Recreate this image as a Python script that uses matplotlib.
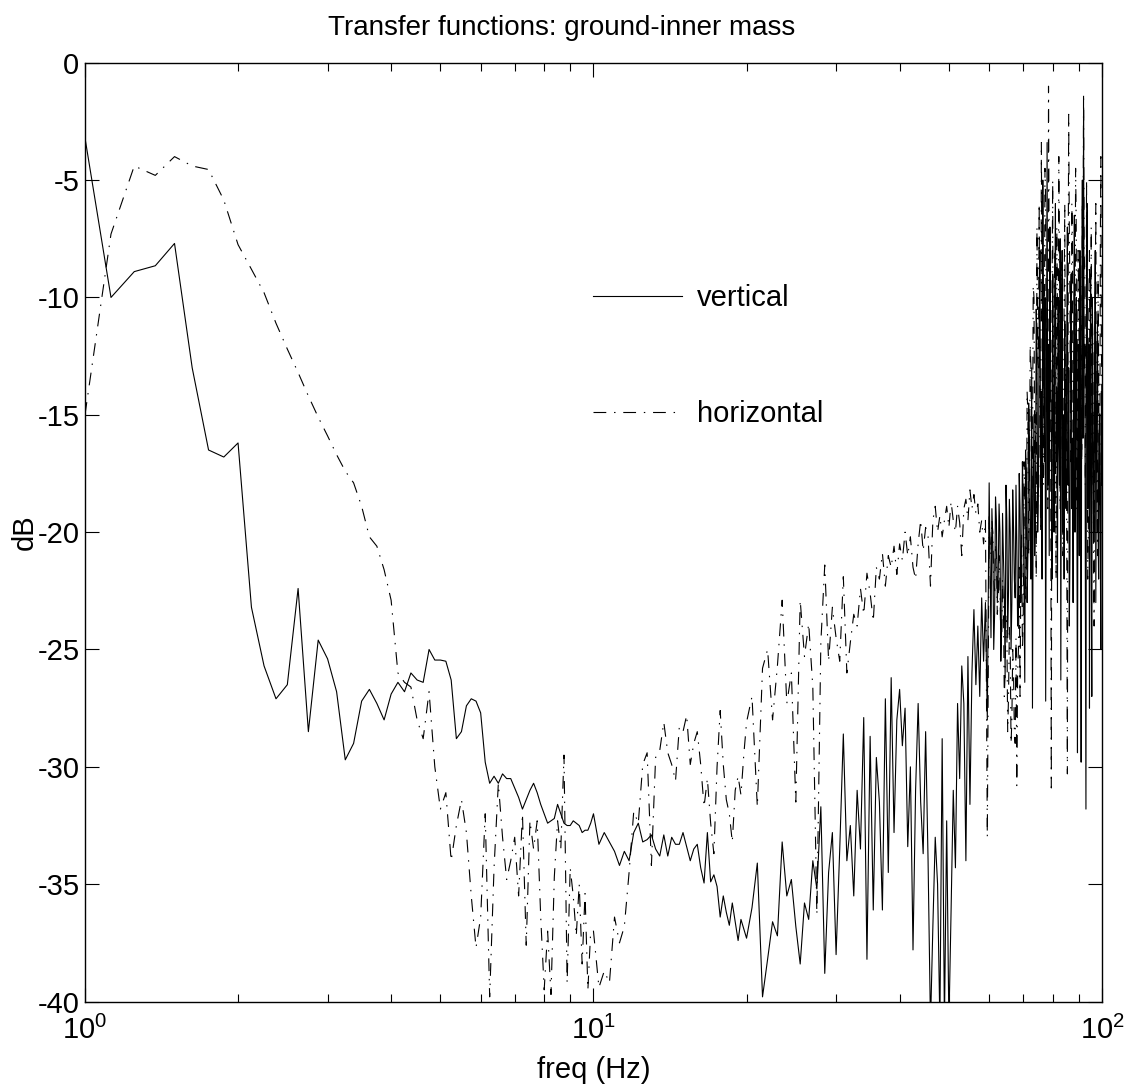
import numpy as np
import matplotlib
matplotlib.use('Agg')
import matplotlib.pyplot as plt

# transfer function magnitudes (dB)
# segment a: 1.0 .. 10.0 Hz, step 0.125 (one row per Hz)
vert_a = [-3.2, -10.0, -8.9, -8.65, -7.7, -13.0, -16.5, -16.8,
          -16.2, -23.2, -25.7, -27.1, -26.5, -22.4, -28.5, -24.6,
          -25.4, -26.8, -29.7, -29.0, -27.2, -26.7, -27.3, -28.0,
          -26.9, -26.4, -26.8, -26.0, -26.3, -26.4, -25.0, -25.45,
          -25.45, -25.5, -26.3, -28.8, -28.5, -27.4, -27.1, -27.2,
          -27.7, -29.8, -30.7, -30.4, -30.7, -30.3, -30.5, -30.5,
          -30.9, -31.3, -31.8, -31.4, -31.0, -30.7, -31.1, -31.6,
          -32.0, -32.4, -32.3, -32.2, -31.6, -32.0, -32.4, -32.5,
          -32.5, -32.3, -32.4, -32.5, -32.8, -32.7, -32.7, -32.4,
          -32.0]
horz_a = [-15.0, -7.3, -4.4, -4.8, -4.0, -4.4, -4.55, -5.85,
          -7.75, -8.8, -9.8, -11.1, -12.2, -13.2, -14.2, -15.1,
          -15.9, -16.7, -17.4, -17.9, -18.9, -20.2, -20.6, -21.6,
          -22.9, -26.0, -26.4, -26.6, -28.0, -28.8, -26.8, -30.0,
          -31.8, -31.1, -34.0, -32.5, -31.4, -32.8, -35.5, -37.7,
          -36.4, -32.0, -39.8, -34.3, -30.7, -33.0, -34.8, -34.0,
          -33.0, -35.5, -32.0, -37.6, -32.3, -33.5, -32.3, -36.4,
          -39.5, -37.0, -39.7, -34.7, -32.3, -33.5, -29.5, -39.2,
          -34.3, -35.5, -37.2, -35.0, -38.4, -35.4, -39.5, -37.0,
          -37.0]

# segment b: 10.25 .. 20.0 Hz, step 0.25
vert_b = [-33.3, -32.8, -33.2, -33.6,
          -34.2, -33.6, -34.0, -32.8,
          -32.4, -33.2, -33.1, -32.9,
          -33.5, -33.8, -32.9, -33.8,
          -33.0, -33.3, -33.3, -32.8,
          -33.4, -34.0, -33.5, -33.3,
          -34.3, -34.95, -32.8, -34.9,
          -34.6, -35.1, -36.4, -35.5,
          -36.2, -36.75, -35.8, -36.6,
          -37.4, -36.5, -36.9, -37.3]
horz_b = [-39.4, -38.7, -39.2, -36.4,
          -37.5, -36.8, -34.5, -31.9,
          -32.4, -29.9, -29.4, -34.2,
          -29.6, -29.3, -28.1, -29.4,
          -29.9, -30.6, -28.3, -28.5,
          -27.8, -29.9, -29.0, -28.5,
          -29.9, -31.7, -30.5, -32.4,
          -33.7, -30.0, -27.6, -29.9,
          -31.4, -32.0, -33.2, -31.0,
          -30.4, -31.2, -29.5, -28.1]

# segment c: 20.5 .. 40.0 Hz, step 0.5
vert_c = [-36.0, -34.1, -39.8, -38.2,
          -36.6, -37.2, -33.2, -35.5,
          -34.8, -36.8, -38.4, -35.8,
          -36.5, -34.0, -35.2, -31.7,
          -38.8, -34.5, -32.8, -38.0,
          -33.5, -28.6, -34.0, -32.5,
          -35.5, -31.0, -33.5, -27.9,
          -38.2, -28.7, -36.1, -29.6,
          -31.5, -36.1, -27.1, -34.5,
          -26.2, -32.8, -28.0, -26.7]
horz_c = [-27.0, -31.7, -25.8, -25.0,
          -28.0, -25.7, -22.9, -27.3,
          -26.0, -31.5, -22.9, -25.3,
          -23.9, -26.6, -36.3, -24.7,
          -21.4, -25.5, -23.2, -24.5,
          -25.5, -21.9, -26.0, -24.7,
          -23.5, -24.0, -22.4, -23.5,
          -21.75, -22.6, -23.8, -21.5,
          -22.0, -20.9, -22.3, -21.0,
          -21.5, -20.6, -21.8, -20.5]

# segment d: 40.5 .. 60.0 Hz, step 0.5 (one row per 5 Hz)
vert_d = [-29.1, -27.5, -33.4, -30.0, -37.8, -31.0, -27.3, -31.5, -33.7, -28.5,
          -34.0, -41.0, -36.8, -33.0, -35.0, -41.0, -28.8, -41.0, -32.3, -41.0,
          -36.1, -31.0, -34.3, -27.3, -30.5, -25.7, -27.3, -34.0, -25.3, -31.6,
          -26.0, -23.3, -26.5, -24.0, -27.0, -22.8, -25.5, -23.0, -28.0, -17.9]
horz_d = [-21.2, -20.0, -21.0, -20.2, -21.5, -22.0, -20.5, -19.5, -20.8, -19.8,
          -20.2, -22.3, -19.5, -18.9, -20.0, -19.3, -20.2, -19.5, -18.9, -19.8,
          -18.7, -19.5, -20.0, -18.9, -19.6, -21.0, -19.0, -18.6, -19.5, -18.2,
          -19.0, -18.4, -19.2, -18.8, -20.0, -19.5, -20.5, -19.5, -33.0, -19.3]

# segment e: 60.25 .. 100 Hz, step 0.25 (one row per 2 Hz)
vert_e = [-21.5, -24.5, -19.0, -20.5, -25.0, -23.5, -18.5, -19.5,
          -23.0, -22.0, -18.8, -20.0, -25.5, -24.0, -19.2, -21.0,
          -22.5, -26.2, -18.0, -19.5, -24.5, -22.5, -18.6, -20.0,
          -25.0, -23.0, -18.2, -19.8, -22.0, -22.8, -18.0, -20.5,
          -24.0, -23.5, -17.5, -19.0, -23.0, -21.5, -17.0, -18.5,
          -22.5, -26.4, -16.5, -17.5, -23.0, -21.0, -14.5, -16.0,
          -20.5, -22.0, -13.0, -27.5, -18.0, -15.0, -21.0, -19.5,
          -10.5, -12.0, -20.0, -18.0, -11.0, -8.0, -19.0, -14.0,
          -22.0, -5.0, -13.0, -17.0, -10.0, -27.2, -15.0, -3.4,
          -18.0, -12.0, -21.0, -7.0, -13.0, -16.0, -22.0, -9.0,
          -15.0, -20.0, -11.0, -6.0, -17.0, -14.0, -23.0, -10.0,
          -16.0, -18.0, -7.5, -26.3, -13.0, -8.0, -20.0, -15.0,
          -22.0, -11.0, -17.0, -19.0, -12.0, -7.0, -18.0, -13.0,
          -24.0, -21.0, -10.0, -9.0, -19.0, -16.0, -23.0, -12.0,
          -6.5, -20.0, -14.0, -10.0, -18.0, -29.4, -12.0, -14.0,
          -21.0, -8.0, -17.0, -29.8, -11.0, -5.0, -16.0, -2.0,
          -13.0, -12.0, -22.0, -31.8, -9.0, -6.0, -19.0, -18.0,
          -12.0, -27.5, -15.0, -9.0, -21.0, -27.0, -10.0, -14.0,
          -19.0, -20.0, -13.0, -8.0, -23.0, -17.0, -12.0, -11.0,
          -20.0, -22.0, -16.0, -15.0, -21.0, -25.0, -14.0, -18.0]
horz_e = [-20.5, -21.0, -19.5, -20.0, -22.0, -22.5, -20.5, -21.0,
          -23.5, -23.0, -21.0, -22.0, -25.0, -24.5, -22.0, -23.0,
          -27.0, -26.0, -23.5, -24.0, -28.5, -27.0, -24.0, -25.0,
          -29.0, -28.0, -25.0, -26.0, -28.5, -29.0, -24.5, -30.8,
          -26.0, -25.0, -21.5, -27.0, -22.0, -20.0, -25.0, -24.0,
          -17.0, -18.0, -23.0, -22.0, -14.0, -15.0, -21.0, -19.0,
          -12.0, -13.0, -18.5, -17.0, -9.5, -10.0, -17.0, -15.0,
          -22.0, -7.0, -12.5, -13.0, -6.0, -16.0, -20.0, -3.4,
          -11.0, -9.0, -18.0, -14.0, -4.5, -6.0, -15.0, -11.0,
          -19.0, -1.0, -9.0, -8.0, -14.0, -30.9, -10.0, -5.0,
          -18.0, -12.0, -8.0, -17.0, -22.0, -7.0, -11.0, -14.0,
          -4.0, -9.0, -19.0, -16.0, -8.5, -11.0, -21.0, -19.0,
          -10.0, -6.0, -15.0, -13.0, -20.0, -30.3, -12.0, -2.2,
          -7.0, -10.0, -17.0, -15.0, -6.0, -8.0, -21.0, -18.0,
          -9.0, -12.0, -4.5, -7.0, -19.0, -16.0, -8.0, -10.0,
          -13.0, -20.0, -9.0, -13.0, -17.0, -6.0, -10.0, -1.3,
          -8.0, -9.0, -18.0, -15.0, -5.0, -11.0, -22.0, -20.0,
          -10.0, -8.0, -16.0, -14.0, -7.0, -18.0, -11.0, -12.0,
          -21.0, -24.0, -14.0, -10.0, -6.0, -16.0, -19.0, -21.0,
          -9.0, -13.0, -17.0, -19.0, -8.0, -4.0, -12.0, -15.0]

y_ticks = [-40, -35, -30, -25, -20, -15, -10, -5, 0]


def freq_grid(a, b, c, d, e):
    return np.concatenate([1.0 + 0.125 * np.arange(len(a)),
                           10.25 + 0.25 * np.arange(len(b)),
                           20.5 + 0.5 * np.arange(len(c)),
                           40.5 + 0.5 * np.arange(len(d)),
                           60.25 + 0.25 * np.arange(len(e))])


freq_v = freq_grid(vert_a, vert_b, vert_c, vert_d, vert_e)
db_v = np.concatenate([vert_a, vert_b, vert_c, vert_d, vert_e])
freq_h = freq_grid(horz_a, horz_b, horz_c, horz_d, horz_e)
db_h = np.concatenate([horz_a, horz_b, horz_c, horz_d, horz_e])

plt.rcParams['font.family'] = ['Liberation Sans Narrow', 'Liberation Sans', 'DejaVu Sans']
plt.rcParams['mathtext.default'] = 'regular'
plt.rcParams['axes.unicode_minus'] = False

fig = plt.figure(figsize=(11.24, 10.89), dpi=100)
ax = fig.add_axes([0.0756, 0.0803, 0.9048, 0.8621])

ax.plot(freq_v, db_v, color='black', lw=0.8, label='vertical')
ax.plot(freq_h, db_h, color='black', lw=0.8, ls=(0, (11.5, 7, 1.3, 7)),
        label='horizontal')

ax.set_xscale('log')
ax.set_xlim(1, 100)
ax.set_ylim(-40, 0)
ax.set_yticks(y_ticks)
ax.tick_params(which='both', direction='in', top=True, right=True, width=0.8)
ax.tick_params(which='major', length=10)
ax.tick_params(which='minor', length=6)
ax.tick_params(axis='x', labelsize=21, pad=10)
ax.tick_params(axis='y', labelsize=21, pad=4)
for sp in ax.spines.values():
    sp.set_linewidth(1.0)

ax.set_xlabel('freq (Hz)', fontsize=21)
ax.set_ylabel('dB', fontsize=21)
ax.xaxis.set_label_coords(0.5, -0.058)
ax.yaxis.set_label_coords(-0.045, 0.5)
fig.suptitle('Transfer functions: ground-inner mass', fontsize=20, y=0.9866)

ax.legend(loc='center left', bbox_to_anchor=(0.4995, 0.6876), frameon=False,
          fontsize=21, borderpad=0, borderaxespad=0, handlelength=3.05,
          handletextpad=0.5, labelspacing=3.0)

fig.savefig('out.png', dpi=100)
